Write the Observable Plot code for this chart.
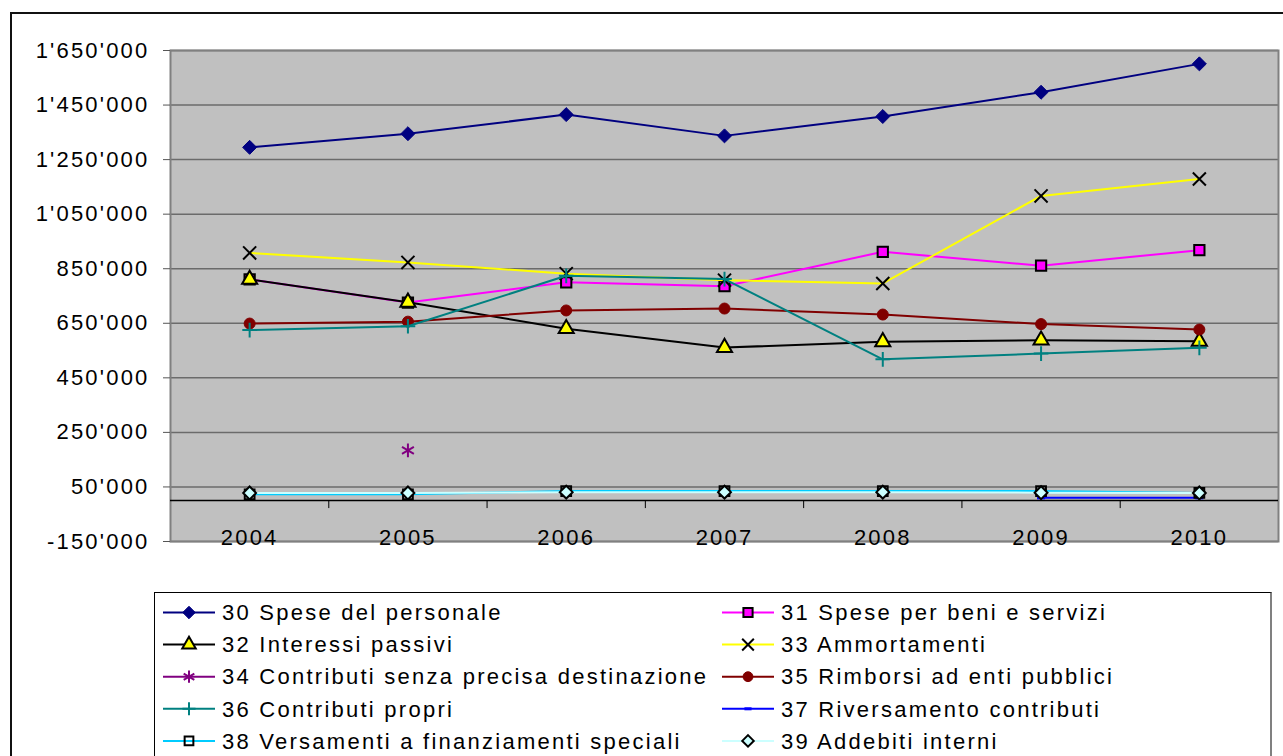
<!DOCTYPE html>
<html>
<head>
<meta charset="utf-8">
<script src="https://cdn.jsdelivr.net/npm/d3@7"></script>
<script src="https://cdn.jsdelivr.net/npm/@observablehq/plot@0.6"></script>
<style>
  html, body { margin: 0; padding: 0; background: #fff; }
  #root { position: relative; width: 1283px; height: 756px; overflow: hidden; background: #fff;
          font-family: "Liberation Sans", Arial, sans-serif; }
  #frame { position: absolute; left: 10px; top: 12px; width: 1400px; height: 900px; border: 2px solid #111; box-sizing: border-box; }
  #chart { position: absolute; left: 0; top: 0; }
  #chart svg text { letter-spacing: 2.2px; }
  #legend { position: absolute; left: 154px; top: 592px; width: 1118px; height: 200px; box-sizing: border-box;
            border-top: 1px solid #000; border-left: 1px solid #000; border-right: 2px solid #808080; background: #fff; }
  #legend text { letter-spacing: 2.25px; }
</style>
</head>
<body>
<div id="root">
  <div id="frame"></div>
  <div id="chart"></div>
  <div id="legend"></div>
</div>
<script>
// ---- Data ----
const years = [2004, 2005, 2006, 2007, 2008, 2009, 2010];
const yTicks = [-150000, 50000, 250000, 450000, 650000, 850000, 1050000, 1250000, 1450000, 1650000];

const names = [
  "30 Spese del personale",
  "31 Spese per beni e servizi",
  "32 Interessi passivi",
  "33 Ammortamenti",
  "34 Contributi senza precisa destinazione",
  "35 Rimborsi ad enti pubblici",
  "36 Contributi propri",
  "37 Riversamento contributi",
  "38 Versamenti a finanziamenti speciali",
  "39 Addebiti interni"
];

const s30 = [1295000, 1345000, 1415000, 1337000, 1408000, 1497000, 1601000];
const s31 = [811000, 726000, 800000, 786000, 912000, 861000, 918000];
const s32 = [811000, 727000, 630000, 561000, 582000, 588000, 584000];
const s33 = [908000, 873000, 832000, 808000, 796000, 1117000, 1179000];
const s34 = [null, 184000, null, null, null, null, null];
const s35 = [649000, 656000, 697000, 704000, 682000, 647000, 627000];
const s36 = [625000, 639000, 824000, 812000, 518000, 539000, 560000];
const s37 = [null, null, null, null, null, 10000, 10000];
const s38 = [23000, 23000, 35000, 35000, 35000, 35000, 28000];
const s39 = [28000, 28000, 31000, 31000, 31000, 29000, 28000];

// ---- Styles ----
const dash = { draw(ctx, size) { const w = Math.sqrt(size) * 0.45; ctx.moveTo(-w, 0); ctx.lineTo(w, 0); } };

const series = [
  { name: names[0], values: s30, color: "#000080", symbol: "diamond2", d3sym: d3.symbolDiamond2, r: 6.3, fill: "#000080", stroke: "#000080", sw: 1 },
  { name: names[1], values: s31, color: "#FF00FF", symbol: "square", d3sym: d3.symbolSquare, r: 5.8, fill: "#FF00FF", stroke: "#000", sw: 2 },
  { name: names[2], values: s32, color: "#000000", symbol: "triangle", d3sym: d3.symbolTriangle, r: 5.6, fill: "#FFFF00", stroke: "#000", sw: 2 },
  { name: names[3], values: s33, color: "#FFFF00", symbol: "times", d3sym: d3.symbolTimes, r: 6, fill: "none", stroke: "#000", sw: 2 },
  { name: names[4], values: s34, color: "#800080", symbol: "asterisk", d3sym: d3.symbolAsterisk, r: 6.5, fill: "none", stroke: "#800080", sw: 2 },
  { name: names[5], values: s35, color: "#800000", symbol: "circle", d3sym: d3.symbolCircle, r: 5.5, fill: "#800000", stroke: "#800000", sw: 1 },
  { name: names[6], values: s36, color: "#008080", symbol: "plus", d3sym: d3.symbolPlus, r: 4.8, fill: "none", stroke: "#008080", sw: 2 },
  { name: names[7], values: s37, color: "#0000FF", symbol: dash, d3sym: dash, r: 5, fill: "none", stroke: "#0000FF", sw: 3 },
  { name: names[8], values: s38, color: "#00CCFF", symbol: "square", d3sym: d3.symbolSquare, r: 5.5, fill: "none", stroke: "#000", sw: 2 },
  { name: names[9], values: s39, color: "#CCFFFF", symbol: "diamond2", d3sym: d3.symbolDiamond2, r: 5.8, fill: "#CCFFFF", stroke: "#000", sw: 2 }
];

const fmt = v => d3.format(",")(v).replace(/,/g, "'").replace("\u2212", "-");
const bounds = years.slice(0, -1).map(y => y + 0.5);

const seriesMarks = series.flatMap(s => {
  const rows = years.map((yr, i) => ({ year: yr, v: s.values[i] })).filter(d => d.v != null);
  return [
    Plot.line(rows, { x: "year", y: "v", stroke: s.color, strokeWidth: 2 }),
    Plot.dot(rows, { x: "year", y: "v", symbol: s.symbol, r: s.r, fill: s.fill, stroke: s.stroke, strokeWidth: s.sw })
  ];
});

const chart = Plot.plot({
  width: 1283,
  height: 560,
  marginLeft: 170,
  marginRight: 5,
  marginTop: 50,
  marginBottom: 19,
  x: { type: "linear", domain: [2003.5, 2010.5], axis: null },
  y: { domain: [-150000, 1650000], axis: null },
  style: { background: "transparent", fontFamily: "'Liberation Sans', Arial, sans-serif", fontSize: "22px", overflow: "visible", color: "#000" },
  marks: [
    Plot.frame({ fill: "#C0C0C0" }),
    Plot.gridY(yTicks, { stroke: "#6b6b6b", strokeOpacity: 1, strokeWidth: 1.5 }),
    Plot.frame({ stroke: "#808080", strokeWidth: 2 }),
    Plot.ruleY([0], { stroke: "#000", strokeWidth: 1.5 }),
    Plot.ruleX(bounds, { x: d => d, y1: 0, y2: 0, insetBottom: -8, stroke: "#000", strokeWidth: 1 }),
    Plot.axisY(yTicks, { tickSize: 7, tickPadding: 14, tickFormat: fmt, label: null, color: "#000", stroke: "#555", fontSize: 22 }),
    Plot.text(years, { x: d => d, text: d => String(d), frameAnchor: "bottom", lineAnchor: "bottom", dy: 3, fill: "#000", fontSize: 22 }),
    ...seriesMarks
  ]
});
document.getElementById("chart").appendChild(chart);

// ---- Legend ----
const legend = d3.select("#legend").append("svg")
  .attr("width", 1116).attr("height", 200)
  .style("font-family", "'Liberation Sans', Arial, sans-serif")
  .style("font-size", "22px");
const order = [0, 2, 4, 6, 8, 1, 3, 5, 7, 9];
order.forEach((idx, k) => {
  const s = series[idx];
  const col = k < 5 ? 0 : 1;
  const row = k % 5;
  const x0 = col === 0 ? 8 : 567;
  const cy = 19.5 + row * 32.1;
  const g = legend.append("g").attr("transform", `translate(${x0},${cy})`);
  g.append("line").attr("x1", 0).attr("x2", 52).attr("y1", 0).attr("y2", 0)
    .attr("stroke", s.color).attr("stroke-width", 2);
  g.append("path").attr("transform", "translate(26,0)")
    .attr("d", d3.symbol(s.d3sym, s.r * s.r * Math.PI * 0.8)())
    .attr("fill", s.fill).attr("stroke", s.stroke).attr("stroke-width", s.sw);
  g.append("text").attr("x", 59).attr("y", 0).attr("dy", "0.35em").attr("fill", "#000").text(s.name);
});
</script>
</body>
</html>
